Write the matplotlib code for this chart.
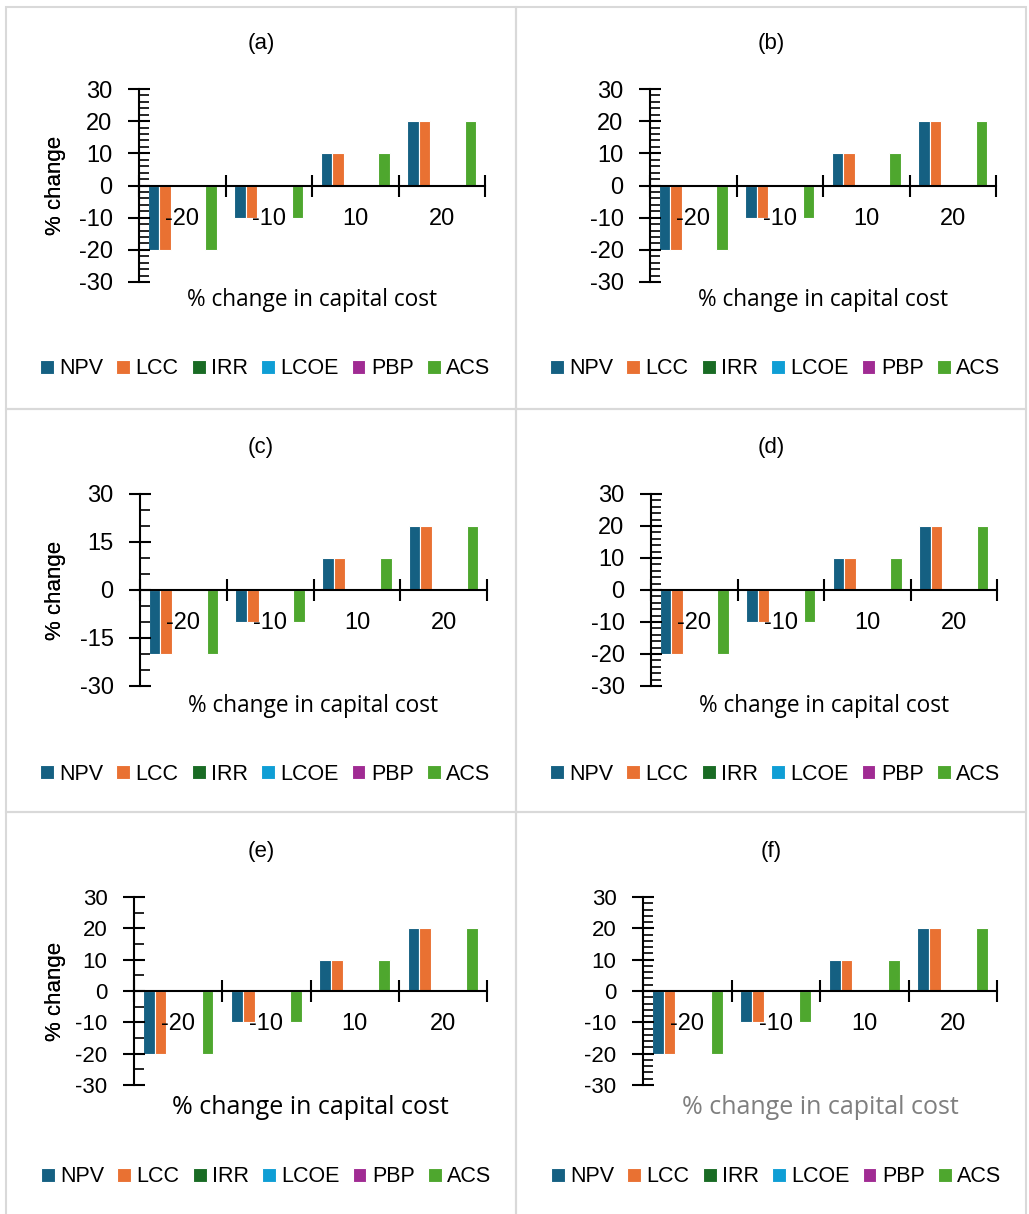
import matplotlib.pyplot as plt
import numpy as np
from matplotlib.patches import Rectangle
from matplotlib.ticker import MultipleLocator, FixedLocator, NullFormatter, FixedFormatter

W, H = 1029, 1214
plt.rcParams['font.family'] = ['Liberation Sans', 'DejaVu Sans']
plt.rcParams['axes.unicode_minus'] = False

categories = ['-20', '-10', '10', '20']
series = ['NPV', 'LCC', 'IRR', 'LCOE', 'PBP', 'ACS']
npv = [-20, -10, 10, 20]
lcc = [-20, -10, 10, 20]
irr = [0, 0, 0, 0]
lcoe = [0, 0, 0, 0]
pbp = [0, 0, 0, 0]
acs = [-20, -10, 10, 20]
colors = ['#156082', '#E97132', '#196B24', '#0F9ED5', '#A02B93', '#4EA72E']
values = [npv, lcc, irr, lcoe, pbp, acs]

xlabel = '% change in capital cost'
ylabel = '% change'

# panel: label, box(x0,y0,x1,y1), axes(l,t,r,b) in px, y major/minor step, title y, xlabel y, xlabel size/color, legend cx,cy
panels = [
    ('(a)', (6, 7, 516, 409), (139, 89, 485, 282), 10, 2, 44, 300, 16.3, 'black', 265, 369),
    ('(b)', (516, 7, 1026, 409), (650, 89, 996, 282), 10, 2, 44, 300, 16.3, 'black', 775, 369),
    ('(c)', (6, 409, 516, 812), (140, 494, 487, 686), 15, 5, 448, 706, 16.3, 'black', 265, 774),
    ('(d)', (516, 409, 1026, 812), (651, 494, 997, 686), 10, 2, 448, 706, 16.3, 'black', 775, 774),
    ('(e)', (6, 812, 516, 1218), (134, 897, 487, 1085), 10, 5, 852, 1107, 18, 'black', 266, 1177),
    ('(f)', (516, 812, 1026, 1218), (643, 897, 997, 1085), 10, 2, 852, 1107, 18, '#7f7f7f', 776, 1177),
]

fig = plt.figure(figsize=(W / 100, H / 100), dpi=100)


def fx(x):
    return x / W


def fy(y):
    return 1 - y / H


n = len(series)
bw = 1 / (n + 1.5)
x = np.arange(len(categories))

for (lab, box, axp, ymaj, ymin, ty, xly, xls, xlc, lcx, lcy) in panels:
    bx0, by0, bx1, by1 = box
    fig.patches.append(Rectangle((fx(bx0), fy(by1)), fx(bx1 - bx0), (by1 - by0) / H,
                                 transform=fig.transFigure, fill=False,
                                 edgecolor='#d9d9d9', linewidth=1.5))
    l, t, r, b = axp
    ax = fig.add_axes([fx(l), fy(b), fx(r - l), (b - t) / H])
    for i, (s, v) in enumerate(zip(series, values)):
        ax.bar(x + (i - (n - 1) / 2) * bw, v, width=bw, color=colors[i],
               edgecolor='white', linewidth=0.8, label=s, zorder=1)
    ax.set_xlim(-0.5, len(categories) - 0.5)
    ax.set_ylim(-30, 30)
    for sp in ['top', 'right']:
        ax.spines[sp].set_visible(False)
    ax.spines['bottom'].set_position(('data', 0))
    ax.spines['bottom'].set_linewidth(1.5)
    ax.spines['left'].set_linewidth(1.5)
    ax.patch.set_alpha(0)

    ax.yaxis.set_major_locator(MultipleLocator(ymaj))
    ax.yaxis.set_minor_locator(MultipleLocator(ymin))
    ax.tick_params(axis='y', which='major', direction='inout', length=16, width=1.5,
                   labelsize=17 if lab not in ('(e)', '(f)') else 16, pad=11)
    ax.tick_params(axis='y', which='minor', direction='in', length=7, width=1.2)

    ax.xaxis.set_major_locator(FixedLocator(np.arange(len(categories) + 1) - 0.5))
    ax.xaxis.set_major_formatter(NullFormatter())
    ax.xaxis.set_minor_locator(FixedLocator(x))
    ax.xaxis.set_minor_formatter(FixedFormatter(categories))
    ax.tick_params(axis='x', which='major', direction='inout', length=16, width=1.5)
    ax.tick_params(axis='x', which='minor', length=0, labelsize=17, pad=16)

    fig.text(fx((bx0 + bx1) / 2), fy(ty), lab, ha='center', va='center', fontsize=16)
    fig.text(fx((l + r) / 2), fy(xly), xlabel, ha='center', va='center',
             fontsize=xls, color=xlc, family=['Open Sans', 'DejaVu Sans'])
    fig.text(fx(55), fy((t + b) / 2), ylabel, ha='center', va='center',
             rotation=90, fontsize=16)

    ax.legend(loc='center', bbox_to_anchor=(fx(lcx), fy(lcy)), bbox_transform=fig.transFigure,
              ncol=n, frameon=False, fontsize=15.5, handlelength=0.65, handleheight=0.65,
              handletextpad=0.25, columnspacing=0.6, borderpad=0)

fig.savefig('out.png', dpi=100)
